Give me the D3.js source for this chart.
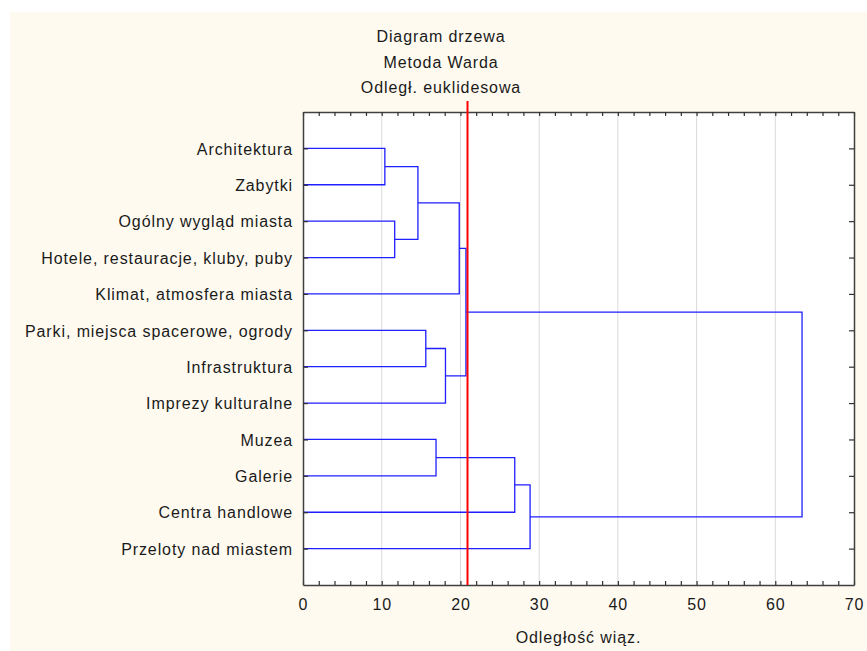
<!DOCTYPE html>
<html>
<head>
<meta charset="utf-8">
<script src="https://cdn.jsdelivr.net/npm/d3@7"></script>
<style>
  body { margin: 0; background: #fff; }
  svg text { font-family: "Liberation Sans", Arial, sans-serif; font-size: 16px; fill: #1a1a1a; letter-spacing: 0.9px; }
</style>
</head>
<body>
<svg id="chart" width="867" height="651"></svg>
<script>
// leaves, top to bottom
var leaves = ['Architektura', 'Zabytki', 'Ogólny wygląd miasta', 'Hotele, restauracje, kluby, puby',
  'Klimat, atmosfera miasta', 'Parki, miejsca spacerowe, ogrody', 'Infrastruktura', 'Imprezy kulturalne',
  'Muzea', 'Galerie', 'Centra handlowe', 'Przeloty nad miastem'];

// merges: [childA, childB, height]; ids 0..11 are leaves, 12.. are clusters in order
var merges = [
  [0, 1, 10.4],
  [2, 3, 11.65],
  [12, 13, 14.6],
  [5, 6, 15.6],
  [8, 9, 16.9],
  [15, 7, 18.1],
  [14, 4, 19.85],
  [18, 17, 20.7],
  [16, 10, 26.9],
  [20, 11, 28.85],
  [19, 21, 63.4]
];

var cutoff = 20.9;
var xTicks = d3.range(0, 71, 2);
var gridValues = [10, 20, 30, 40, 50, 60];
var titleLines = ['Diagram drzewa', 'Metoda Warda', 'Odległ. euklidesowa'];
var xTitle = 'Odległość wiąz.';

var svg = d3.select('#chart');
var L = 303, R = 854, T = 112, B = 585;

var x = d3.scaleLinear().domain([0, 70]).range([L, R]);
var y = d3.scalePoint().domain(leaves).range([T, B]).padding(1);

/***********************************************************************************/
// Background

svg.append('rect').attr('x', 10).attr('y', 12).attr('width', 857).attr('height', 639).attr('fill', '#fffaf0');
svg.append('rect').attr('x', L).attr('y', T).attr('width', R - L).attr('height', B - T).attr('fill', '#fff');

svg.selectAll('.grid').data(gridValues).enter().append('line')
  .attr('x1', function(d){ return x(d); }).attr('x2', function(d){ return x(d); })
  .attr('y1', T).attr('y2', B)
  .attr('stroke', '#dadada').attr('stroke-width', 1);

/***********************************************************************************/
// Dendrogram

var nodes = leaves.map(function(name){ return { h: 0, y: y(name) }; });
merges.forEach(function(m){
  var a = nodes[m[0]], b = nodes[m[1]];
  nodes.push({ h: m[2], y: (a.y + b.y) / 2, a: a, b: b });
});

var links = svg.append('g').attr('fill', 'none').attr('stroke', '#1f1fff').attr('stroke-width', 1.3);
nodes.forEach(function(n){
  if(!n.a) return;
  var px = x(n.h);
  links.append('path').attr('d',
    'M' + x(n.a.h) + ',' + n.a.y + 'H' + px + 'V' + n.b.y + 'H' + x(n.b.h));
});

/***********************************************************************************/
// Axes

function styleAxis(g){
  g.selectAll('.domain').attr('stroke', '#404040').attr('stroke-width', 1.5);
  g.selectAll('.tick line').attr('stroke', '#303030').attr('stroke-width', 1.2);
  g.selectAll('text').attr('fill', '#1a1a1a').style('font-size', '16px')
    .style('font-family', '"Liberation Sans", Arial, sans-serif');
}

svg.append('g').attr('transform', 'translate(0,' + B + ')')
  .call(d3.axisBottom(x).tickValues(xTicks).tickSizeInner(-4).tickSizeOuter(0).tickPadding(14)
    .tickFormat(function(d){ return d % 10 === 0 ? d : ''; }))
  .call(styleAxis);

svg.append('g').attr('transform', 'translate(0,' + T + ')')
  .call(d3.axisTop(x).tickValues(xTicks).tickSizeInner(-4).tickSizeOuter(0).tickFormat(''))
  .call(styleAxis);

svg.append('g').attr('transform', 'translate(' + L + ',0)')
  .call(d3.axisLeft(y).tickSizeInner(-5).tickSizeOuter(0).tickPadding(10))
  .call(styleAxis)
  .selectAll('text').attr('dy', '0.36em');

svg.append('g').attr('transform', 'translate(' + R + ',0)')
  .call(d3.axisRight(y).tickSizeInner(-5).tickSizeOuter(0).tickFormat(''))
  .call(styleAxis);

/***********************************************************************************/
// Cut-off line, titles

svg.append('line')
  .attr('x1', x(cutoff)).attr('x2', x(cutoff)).attr('y1', 101).attr('y2', B)
  .attr('stroke', '#ff0000').attr('stroke-width', 2);

svg.selectAll('.title').data(titleLines).enter().append('text')
  .attr('x', 441).attr('y', function(d, i){ return 42 + i * 25.5; })
  .attr('text-anchor', 'middle').text(function(d){ return d; });

svg.append('text').attr('x', (L + R) / 2).attr('y', 643)
  .attr('text-anchor', 'middle').text(xTitle);
</script>
</body>
</html>
